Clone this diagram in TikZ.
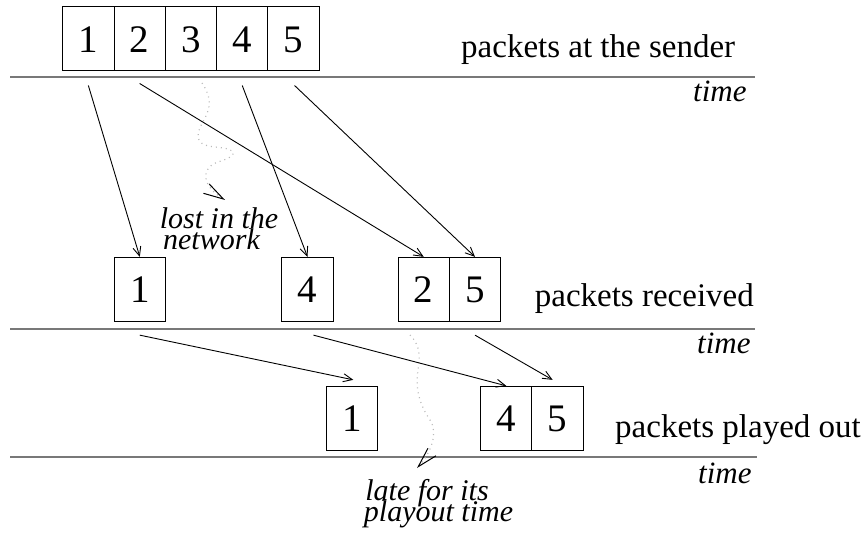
\documentclass[tikz,border=0pt]{standalone}
\usepackage{fontspec}
\setmainfont{Liberation Serif}
\usetikzlibrary{arrows.meta}
\definecolor{axisgray}{RGB}{120,120,120}
\definecolor{trailgray}{RGB}{185,185,185}

\begin{document}
\begin{tikzpicture}[x=1pt,y=-1pt,
  pkt/.style={draw, line width=1pt, minimum width=51.3pt, minimum height=64.3pt,
    inner sep=0pt, text height=26.5pt, text depth=0pt,
    font=\fontsize{39}{40}\selectfont},
  axis/.style={draw=axisgray, line width=1.6pt},
  lbl/.style={inner sep=0pt, font=\fontsize{33}{36}\selectfont},
  tlbl/.style={anchor=base west, inner sep=0pt, font=\fontsize{31}{34}\selectfont\itshape},
  note/.style={anchor=base, inner sep=0pt, font=\fontsize{30}{20}\selectfont\itshape},
  flow/.style={line width=0.9pt, -{Straight Barb[length=9pt,width=8pt]}},
  lossy/.style={draw=trailgray, line width=1.2pt, dash pattern=on 1pt off 4pt,
    -{Straight Barb[length=20pt,width=11pt,color=black,line width=1pt]}}
]
\useasboundingbox (0,0) rectangle (867,534);

% time axes
\coordinate (a1w) at (10,77);  \coordinate (a1e) at (755,77);
\coordinate (a2w) at (10,329); \coordinate (a2e) at (755,329);
\coordinate (a3w) at (10,457); \coordinate (a3e) at (757,457);
\draw[axis] (a1w) -- (a1e);
\draw[axis] (a2w) -- (a2e);
\draw[axis] (a3w) -- (a3e);

% packets at the sender
\node[pkt] (s1) at (88.35,38.85) {1};
\node[pkt] (s2) at (139.65,38.85) {2};
\node[pkt] (s3) at (190.95,38.85) {3};
\node[pkt] (s4) at (242.25,38.85) {4};
\node[pkt] (s5) at (293.55,38.85) {5};

% packets received
\node[pkt] (r1) at (139.8,289.5) {1};
\node[pkt] (r4) at (307.5,289.5) {4};
\node[pkt] (r2) at (423.7,289.5) {2};
\node[pkt] (r5) at (475,289.5) {5};

% packets played out
\node[pkt] (p1) at (352,418.5) {1};
\node[pkt] (p4) at (506.3,418.5) {4};
\node[pkt] (p5) at (557.6,418.5) {5};

% row labels
\node[lbl, anchor=base west] (l1) at (461,58) {packets at the sender};
\node[lbl, anchor=base east] (l2) at (754,307) {packets received};
\node[lbl, anchor=base west] (l3) at (615,437) {packets played out};
\node[tlbl] (t1) at (693,102) {time};
\node[tlbl] (t2) at (697,354) {time};
\node[tlbl] (t3) at (698,483) {time};

% annotations
\node[note] (n1) at (219,229) {lost in the};
\node[note] (n2) at (211.5,250) {network};
\node[note] (n3) at (427,500) {late for its};
\node[note] (n4) at (438.5,521) {playout time};

% dotted trails of the lost and the late packet
\coordinate (lost0) at (202,83);
\coordinate (lost1) at (225,200);
\draw[lossy] (lost0) .. controls (210,95) and (212,105) .. (205,118)
  .. controls (198,130) and (190,145) .. (215,147)
  .. controls (240,149) and (238,156) .. (218,162)
  .. controls (200,168) and (202,186) .. (lost1);
\coordinate (late0) at (410,335);
\coordinate (late1) at (417,468);
\draw[lossy] (late0) .. controls (418,343) and (421,352) .. (418,370)
  .. controls (415,390) and (420,405) .. (430,420)
  .. controls (438,432) and (432,452) .. (late1);

% sender to receiver
\draw[flow] ([yshift=-14pt]s1.south) -- (r1.north);
\draw[flow] ([yshift=-12pt]s2.south) -- (r2.north);
\draw[flow] ([yshift=-14pt]s4.south) -- (r4.north);
\draw[flow] ([xshift=1pt,yshift=-14pt]s5.south) -- (r5.north);

% receiver to playout
\draw[flow] ([yshift=-13pt]r1.south) -- ([xshift=1.3pt,yshift=6pt]p1.north);
\draw[flow] ([xshift=6pt,yshift=-13pt]r4.south) -- (p4.north);
\draw[flow] ([yshift=-13pt]r5.south) -- ([xshift=-5pt,yshift=6pt]p5.north);
\end{tikzpicture}
\end{document}
